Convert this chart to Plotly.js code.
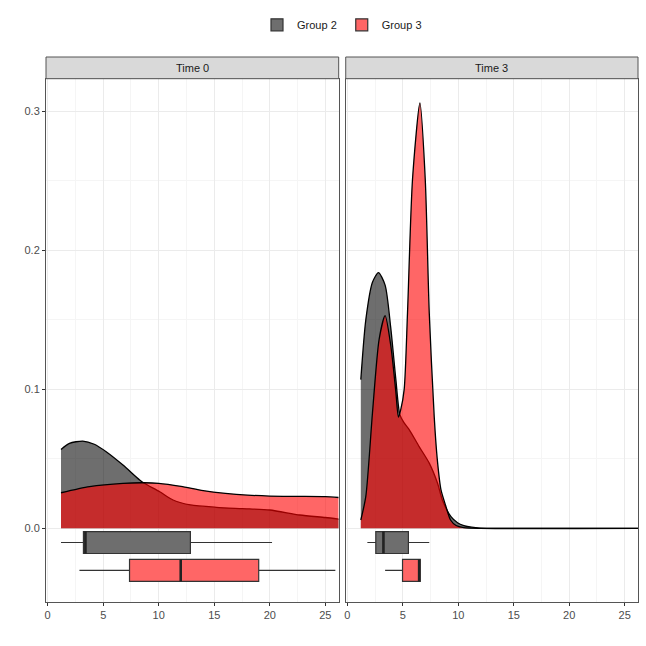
<!DOCTYPE html>
<html>
<head>
<meta charset="utf-8">
<script src="https://cdn.plot.ly/plotly-3.0.1.min.js"></script>
<style>
  body { margin: 0; background: #fff; }
  #myPlot { width: 646px; height: 646px; }
</style>
</head>
<body>
<div id="myPlot"></div>
<script>
// density curves
var t0_g2_x = [1.2, 1.96, 3.16, 4.2, 5.27, 6.78, 8.28, 8.7, 10.09, 11.29, 12.86, 15.2, 17.5, 20.0, 22.7, 25.0, 26.2];
var t0_g2_y = [0.0568, 0.0611, 0.0628, 0.0605, 0.0551, 0.0455, 0.0348, 0.0324, 0.0263, 0.0204, 0.0168, 0.0151, 0.0142, 0.0132, 0.0096, 0.0078, 0.0067];

var t0_g3_x = [1.2, 3.77, 6.78, 8.7, 10.0, 12.0, 14.0, 16.0, 18.0, 20.0, 22.5, 25.0, 26.2];
var t0_g3_y = [0.0256, 0.0300, 0.0324, 0.0328, 0.0324, 0.0302, 0.0272, 0.0252, 0.0239, 0.0232, 0.0230, 0.0228, 0.0222];

var t3_g2_x = [1.21, 1.66, 2.26, 2.8, 3.4, 3.9, 4.37, 4.73, 5.1, 5.57, 6.47, 7.38, 8.13, 8.58, 9.34, 9.93, 10.5, 11.2, 12.0, 14.0, 26.2];
var t3_g2_y = [0.107, 0.150, 0.177, 0.184, 0.175, 0.145, 0.107, 0.0817, 0.076, 0.071, 0.0588, 0.0469, 0.0324, 0.020, 0.0084, 0.004, 0.002, 0.0008, 0.0002, 0, 0];

var t3_g3_x = [1.21, 1.66, 2.26, 2.86, 3.4, 3.92, 4.37, 4.6, 4.8, 5.12, 5.42, 5.87, 6.54, 7.02, 7.38, 7.83, 8.1, 8.44, 8.89, 9.3, 9.8, 10.5, 12.0, 26.2];
var t3_g3_y = [0.006, 0.023, 0.083, 0.136, 0.153, 0.131, 0.098, 0.080, 0.085, 0.100, 0.155, 0.251, 0.306, 0.251, 0.155, 0.080, 0.050, 0.0276, 0.0156, 0.006, 0.002, 0.0005, 0, 0];

// boxplot summaries: [lower whisker, q1, median, q3, upper whisker]
var t0_g2_box = [1.2, 3.22, 3.4, 12.85, 20.2];
var t0_g3_box = [2.86, 7.37, 11.98, 19.0, 25.9];
var t3_g2_box = [1.8, 2.56, 3.25, 5.5, 7.38];
var t3_g3_box = [3.4, 4.97, 6.47, 6.57, 6.57];

var groups = ["Group 2", "Group 3"];
var facets = ["Time 0", "Time 3"];
var boxPos = [-0.0102, -0.0303];
var boxWidth = 0.0158;

var grayFill = "rgba(0,0,0,0.57)";
var redFill = "rgba(255,0,0,0.6)";
var boxFill = ["#6e6e6e", "#ff6666"];

function dens(x, y, fill, xa, ya) {
    return {
        x: x, y: y, type: "scatter", mode: "lines",
        fill: "tozeroy", fillcolor: fill,
        line: { color: "black", width: 1.3, shape: "spline", smoothing: 0.7 },
        xaxis: xa, yaxis: ya, showlegend: false, hoverinfo: "skip"
    };
}

function box(s, gi, xa, ya, legend) {
    return {
        type: "box", orientation: "h",
        y: [boxPos[gi]],
        lowerfence: [s[0]], q1: [s[1]], median: [s[2]], q3: [s[3]], upperfence: [s[4]],
        width: boxWidth, whiskerwidth: 0,
        fillcolor: boxFill[gi],
        line: { color: "#333333", width: 1.2 },
        name: groups[gi], legendgroup: groups[gi], showlegend: legend,
        xaxis: xa, yaxis: ya, boxpoints: false
    };
}

// thicker median bar, like ggplot
function median(s, gi, xa, ya) {
    return {
        x: [s[2], s[2]], y: [boxPos[gi] - boxWidth / 2, boxPos[gi] + boxWidth / 2],
        type: "scatter", mode: "lines",
        line: { color: "#222222", width: 2.6 },
        xaxis: xa, yaxis: ya, showlegend: false, hoverinfo: "skip"
    };
}

var data = [
    dens(t0_g2_x, t0_g2_y, grayFill, "x", "y"),
    dens(t0_g3_x, t0_g3_y, redFill, "x", "y"),
    dens(t3_g2_x, t3_g2_y, grayFill, "x2", "y2"),
    dens(t3_g3_x, t3_g3_y, redFill, "x2", "y2"),
    box(t0_g2_box, 0, "x", "y", true),
    box(t0_g3_box, 1, "x", "y", true),
    box(t3_g2_box, 0, "x2", "y2", false),
    box(t3_g3_box, 1, "x2", "y2", false),
    median(t0_g2_box, 0, "x", "y"),
    median(t0_g3_box, 1, "x", "y"),
    median(t3_g2_box, 0, "x2", "y2"),
    median(t3_g3_box, 1, "x2", "y2")
];

var yTop = 0.9602;
var d1 = [0, 0.4944];
var d2 = [0.5063, 1];

function xax(dom, anchor) {
    return {
        domain: dom, anchor: anchor, range: [-0.15, 26.2],
        tick0: 0, dtick: 5, ticks: "outside", ticklen: 3, tickcolor: "#333333",
        tickfont: { size: 11, color: "#4d4d4d" },
        showgrid: true, gridcolor: "#ebebeb", gridwidth: 1,
        minor: { tick0: 0, dtick: 2.5, showgrid: true, gridcolor: "#f5f5f5", gridwidth: 1 },
        showline: true, mirror: true, linecolor: "#555555", linewidth: 1,
        zeroline: false
    };
}

function yax(anchor, labels) {
    return {
        domain: [0, yTop], anchor: anchor, range: [-0.053, 0.3235],
        tickvals: [0, 0.1, 0.2, 0.3], tickformat: ".1f",
        ticks: labels ? "outside" : "", ticklen: 3, tickcolor: "#333333",
        showticklabels: labels,
        tickfont: { size: 11, color: "#4d4d4d" },
        showgrid: true, gridcolor: "#ebebeb", gridwidth: 1,
        minor: { tickvals: [0.05, 0.15, 0.25], showgrid: true, gridcolor: "#f5f5f5", gridwidth: 1 },
        showline: true, mirror: true, linecolor: "#555555", linewidth: 1,
        zeroline: false
    };
}

var shapes = [];
var annotations = [];
[d1, d2].forEach(function (d, i) {
    shapes.push({
        type: "rect", xref: "paper", yref: "paper",
        x0: d[0], x1: d[1], y0: yTop, y1: 1,
        fillcolor: "#d9d9d9", line: { color: "#555555", width: 1 }
    });
    annotations.push({
        xref: "paper", yref: "paper", x: (d[0] + d[1]) / 2, y: (yTop + 1) / 2,
        xanchor: "center", yanchor: "middle",
        text: facets[i], showarrow: false,
        font: { size: 11, color: "#1a1a1a" }
    });
});

var layout = {
    width: 646, height: 646,
    margin: { l: 46, r: 8, t: 57, b: 44 },
    paper_bgcolor: "white", plot_bgcolor: "white",
    font: { family: "Liberation Sans, Arial, sans-serif", size: 11, color: "#1a1a1a" },
    xaxis: xax(d1, "y"),
    xaxis2: xax(d2, "y2"),
    yaxis: yax("x", true),
    yaxis2: yax("x2", false),
    shapes: shapes,
    annotations: annotations,
    showlegend: true,
    legend: {
        orientation: "h", x: 0.5, xanchor: "center", y: 1.059, yanchor: "middle",
        font: { size: 11, color: "#1a1a1a" }, itemwidth: 30, traceorder: "normal"
    }
};

Plotly.newPlot("myPlot", data, layout, { displayModeBar: false, staticPlot: true });
</script>
</body>
</html>
